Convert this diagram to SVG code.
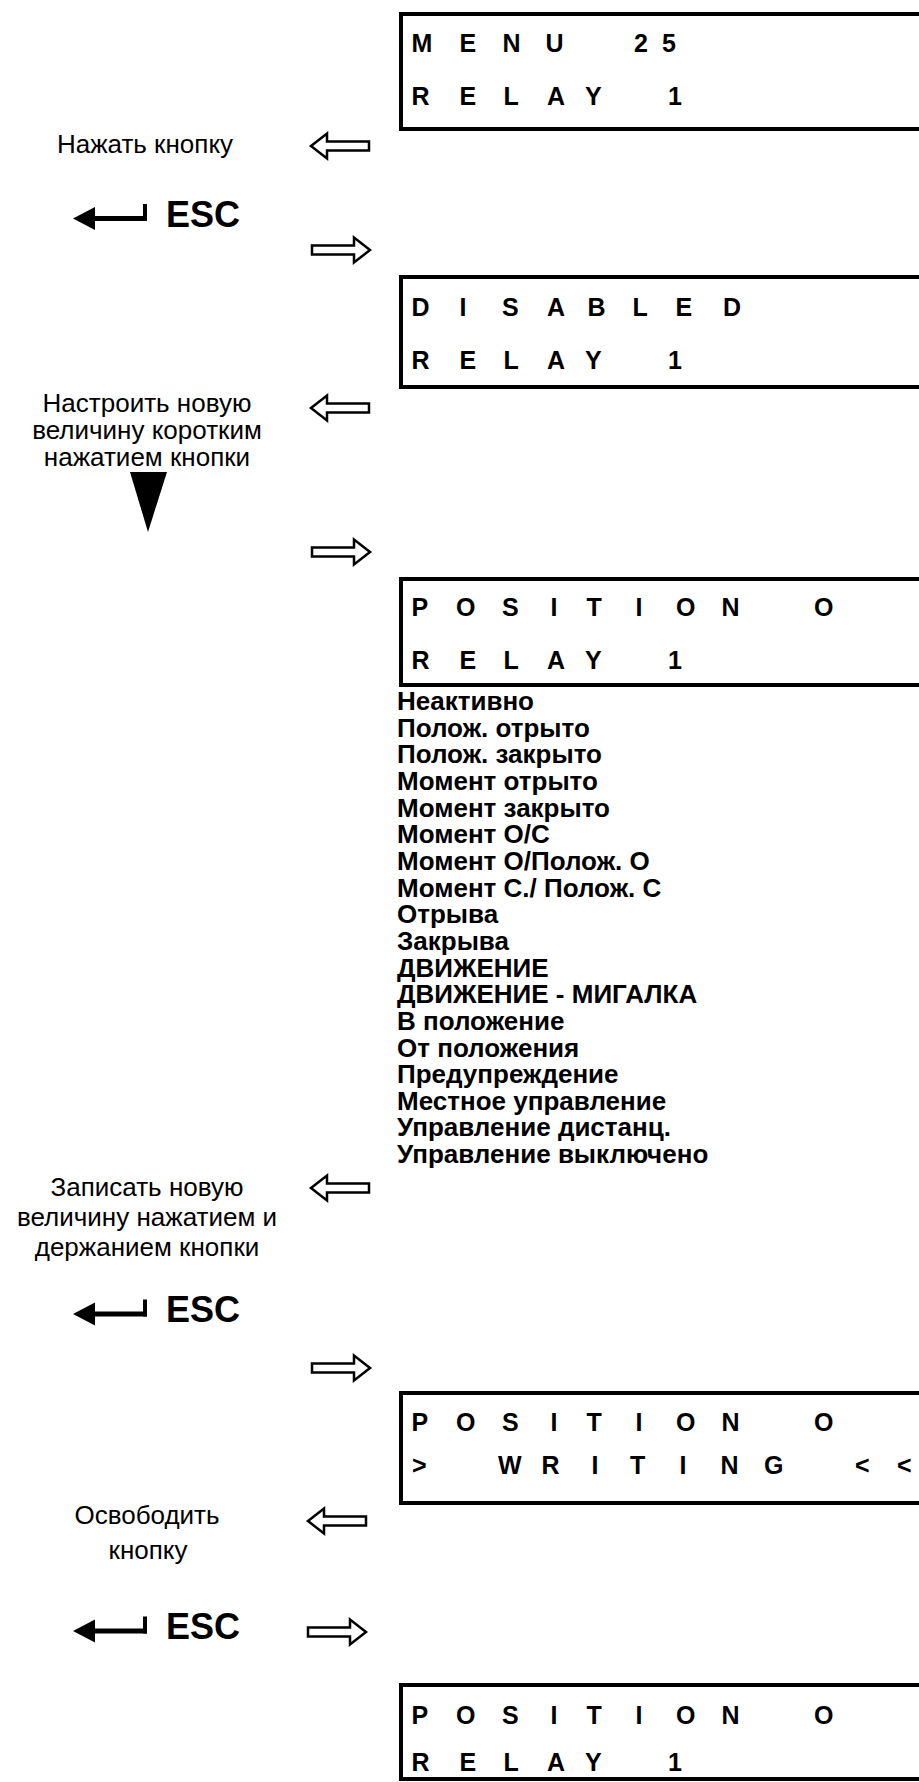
<svg xmlns="http://www.w3.org/2000/svg" width="919" height="1782" viewBox="0 0 919 1782">
<style>
.lcd{fill:none;stroke:#000;stroke-width:4}
.lt{font-family:"Liberation Sans",Arial,sans-serif;font-weight:bold;font-size:25px;fill:#000}
.lbl{font-family:"Liberation Sans",Arial,sans-serif;font-size:26px;fill:#000;text-anchor:middle}
.opt{font-family:"Liberation Sans",Arial,sans-serif;font-weight:bold;font-size:26px;fill:#000}
.esc{font-family:"Liberation Sans",Arial,sans-serif;font-weight:bold;font-size:36px;fill:#000}
.harr{fill:#fff;stroke:#000;stroke-width:2.5;stroke-linejoin:miter}
</style>
<defs>
<path id="arrL" d="M0,0 L16,-12.5 L16,-4.5 L58,-4.5 L58,4.5 L16,4.5 L16,12.5 Z"/>
<path id="arrR" d="M58,0 L42,-12.5 L42,-4.5 L0,-4.5 L0,4.5 L42,4.5 L42,12.5 Z"/>
<g id="escSym">
<polygon points="0,0 22,-11.5 22,11.5"/>
<rect x="20" y="-2.5" width="54" height="5"/>
<rect x="70" y="-14.5" width="4" height="17"/>
</g>
</defs>

<g id="box1">
<rect class="lcd" x="401" y="14" width="600" height="115"/>
<text class="lt" x="411.5 459.5 502.5 545.5 590 634 662" y="52">MENU 25</text>
<text class="lt" x="411.5 459.5 503.5 547 585 630 668" y="105">RELAY 1</text>
</g>

<g id="box2">
<rect class="lcd" x="401" y="277" width="600" height="110"/>
<text class="lt" x="411.5 459.5 502 547 587.5 632.5 675.5 723" y="316">DISABLED</text>
<text class="lt" x="411.5 459.5 503.5 547 585 630 668" y="369">RELAY 1</text>
</g>

<g id="box3">
<rect class="lcd" x="401" y="579" width="600" height="106"/>
<text class="lt" x="411.5 456 502 550.5 586.5 635.5 676 721.5 770 814" y="616">POSITION O</text>
<text class="lt" x="411.5 459.5 503.5 547 585 630 668" y="669">RELAY 1</text>
</g>

<g id="options">
<text class="opt" x="397" y="710">Неактивно</text>
<text class="opt" x="397" y="736.7">Полож. отрыто</text>
<text class="opt" x="397" y="763.3">Полож. закрыто</text>
<text class="opt" x="397" y="790">Момент отрыто</text>
<text class="opt" x="397" y="816.6">Момент закрыто</text>
<text class="opt" x="397" y="843.3">Момент О/С</text>
<text class="opt" x="397" y="869.9">Момент О/Полож. О</text>
<text class="opt" x="397" y="896.6">Момент С./ Полож. С</text>
<text class="opt" x="397" y="923.2">Отрыва</text>
<text class="opt" x="397" y="949.9">Закрыва</text>
<text class="opt" x="397" y="976.5">ДВИЖЕНИЕ</text>
<text class="opt" x="397" y="1003.2">ДВИЖЕНИЕ - МИГАЛКА</text>
<text class="opt" x="397" y="1029.8">В положение</text>
<text class="opt" x="397" y="1056.5">От положения</text>
<text class="opt" x="397" y="1083.1">Предупреждение</text>
<text class="opt" x="397" y="1109.8">Местное управление</text>
<text class="opt" x="397" y="1136.4">Управление дистанц.</text>
<text class="opt" x="397" y="1163">Управление выключено</text>
</g>

<g id="box4">
<rect class="lcd" x="401" y="1393" width="600" height="110"/>
<text class="lt" x="411.5 456 502 550.5 586.5 635.5 676 721.5 770 814" y="1431">POSITION O</text>
<text class="lt" x="412 450 498 541.5 591.5 630 679.5 720.5 764 810 855 880 897" y="1474">&gt; WRITING &lt; &lt;</text>
</g>

<g id="box5">
<rect class="lcd" x="401" y="1685" width="600" height="94"/>
<text class="lt" x="411.5 456 502 550.5 586.5 635.5 676 721.5 770 814" y="1724">POSITION O</text>
<text class="lt" x="411.5 459.5 503.5 547 585 630 668" y="1771">RELAY 1</text>
</g>

<g id="label1">
<text class="lbl" x="145" y="153">Нажать кнопку</text>
</g>
<g id="esc1">
<use href="#escSym" transform="translate(73,218.5)"/>
<text class="esc" x="166" y="226.5">ESC</text>
</g>
<g id="label2">
<text class="lbl" x="147" y="412">Настроить новую</text>
<text class="lbl" x="147" y="439">величину коротким</text>
<text class="lbl" x="147" y="466">нажатием кнопки</text>
<polygon points="130,472 167,472 148,532"/>
</g>
<g id="label3">
<text class="lbl" x="147" y="1196">Записать новую</text>
<text class="lbl" x="147" y="1226">величину нажатием и</text>
<text class="lbl" x="147" y="1256">держанием кнопки</text>
</g>
<g id="esc2">
<use href="#escSym" transform="translate(73,1314)"/>
<text class="esc" x="166" y="1322">ESC</text>
</g>
<g id="label4">
<text class="lbl" x="147" y="1524">Освободить</text>
<text class="lbl" x="148" y="1559">кнопку</text>
</g>
<g id="esc3">
<use href="#escSym" transform="translate(73,1631)"/>
<text class="esc" x="166" y="1639">ESC</text>
</g>

<g id="connectors">
<use href="#arrL" class="harr" transform="translate(311,146)"/>
<use href="#arrR" class="harr" transform="translate(312,250)"/>
<use href="#arrL" class="harr" transform="translate(311,408)"/>
<use href="#arrR" class="harr" transform="translate(312,552)"/>
<use href="#arrL" class="harr" transform="translate(311,1188)"/>
<use href="#arrR" class="harr" transform="translate(312,1368)"/>
<use href="#arrL" class="harr" transform="translate(308,1521)"/>
<use href="#arrR" class="harr" transform="translate(308,1632)"/>
</g>
</svg>
